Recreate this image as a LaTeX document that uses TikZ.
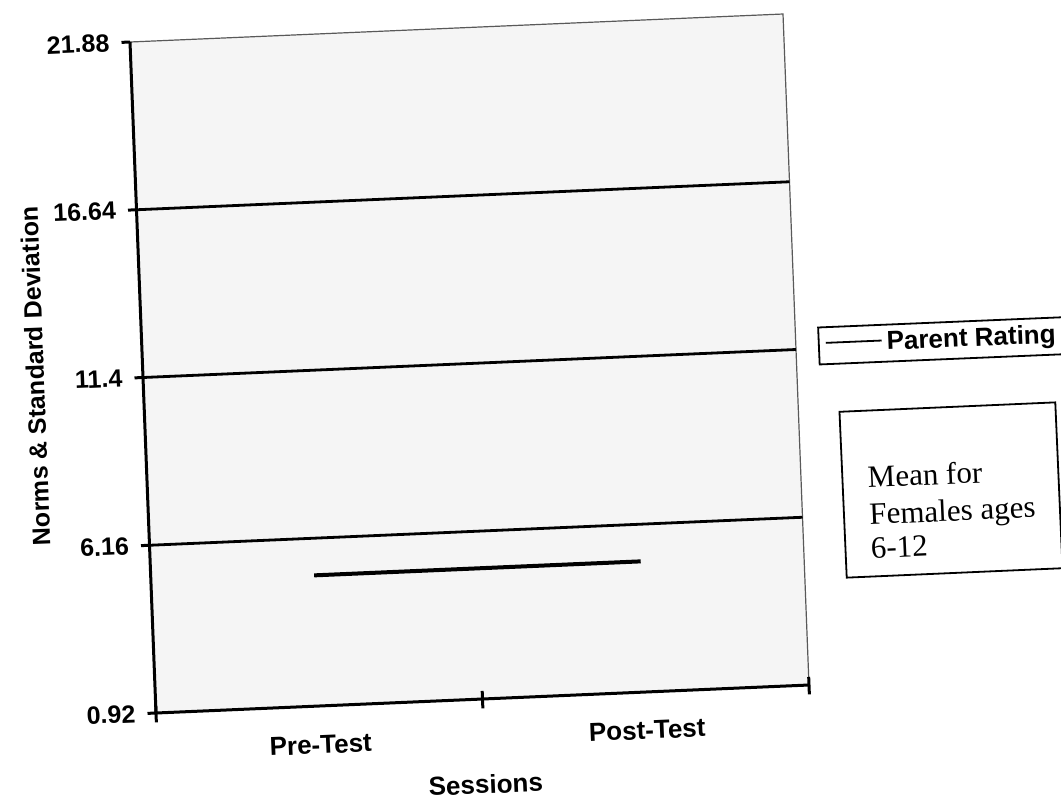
\documentclass[tikz,border=0pt]{standalone}
\usepackage{fontspec}
\setmainfont{Liberation Serif}
\newfontfamily\arialfont{Liberation Sans}
\begin{document}
\begin{tikzpicture}[x=0.5pt,y=-0.5pt,
  ticklbl/.style={font=\arialfont\bfseries\fontsize{12.5pt}{15pt}\selectfont, inner sep=0pt, rotate=2.4},
  catlbl/.style={font=\arialfont\bfseries\fontsize{13pt}{15pt}\selectfont, inner sep=0pt, rotate=2.4},
  serif/.style={font=\fontsize{15.5pt}{18.5pt}\selectfont, inner sep=0pt},
  axisline/.style={line width=1.5pt},
  gridline/.style={line width=1.4pt},
  border/.style={line width=0.6pt, black!65},
  dataline/.style={line width=2pt},
  ]
\fill[white] (0,0) rectangle (1061,800);
\useasboundingbox (0,0) rectangle (1061,800);

% plot area (affine frame of the skewed scan)
\begin{scope}[shift={(156,713)}, x={(326.5pt,14pt)}, y={(-13pt,335.5pt)}]
  \coordinate (BL) at (0,0);
  \coordinate (BR) at (1,0);
  \coordinate (TL) at (0,1);
  \coordinate (TR) at (1,1);
  \fill[black!4] (BL) -- (BR) -- (TR) -- (TL) -- cycle;
  \draw[border] (TL) -- (TR) -- (BR);
  \foreach \v in {0.25,0.5,0.75} \draw[gridline] (0,\v) -- (1,\v);
  \draw[axisline] (TL) -- (BL) -- (BR);
  \foreach \v in {0,0.25,0.5,0.75,1} \draw[axisline] (0,\v) -- (-0.013,\v);
  \foreach \u in {0,0.5,1} \draw[axisline] (\u,-0.014) -- (\u,0.012);
  % tick labels
  \node[ticklbl, anchor=east] (y0) at (-0.031,0) {0.92};
  \node[ticklbl, anchor=east] (y1) at (-0.031,0.25) {6.16};
  \node[ticklbl, anchor=east] (y2) at (-0.031,0.5) {11.4};
  \node[ticklbl, anchor=east] (y3) at (-0.031,0.75) {16.64};
  \node[ticklbl, anchor=east] (y4) at (-0.031,1) {21.88};
  % category labels
  \node[catlbl] (pre) at (0.25,-0.058) {Pre-Test};
  \node[catlbl] (post) at (0.75,-0.057) {Post-Test};
  \node[catlbl] (sess) at (0.5,-0.127) {Sessions};
  \node[ticklbl, rotate=89.8] (ylab) at (-0.165,0.509) {Norms \& Standard Deviation};
  % data series
  \coordinate (d1) at (0.25,0.1947);
  \coordinate (d2) at (0.75,0.1947);
  \draw[dataline] (d1) -- (d2);
\end{scope}

% legend
\begin{scope}[shift={(818,346)}, rotate=2.4, transform shape]
  \node[draw, line width=0.9pt, anchor=west, inner xsep=3.5pt, inner ysep=0pt,
        minimum height=18.5pt,
        font=\arialfont\bfseries\fontsize{13pt}{15pt}\selectfont] (leg) at (0,0)
        {\rule[0.33em]{28pt}{0.9pt}\hspace{2.5pt}Parent Rating};
\end{scope}

% text box
\begin{scope}[shift={(951,490)}, rotate=2.5, transform shape]
  \node[draw, line width=0.9pt, minimum width=108pt, minimum height=83pt, inner sep=0pt] (meanbox) at (0,0) {};
  \node[serif, anchor=base west] (m1) at (-83,-6) {Mean for};
  \node[serif, anchor=base west] (m2) at (-83,31) {Females ages};
  \node[serif, anchor=base west] (m3) at (-83,65) {6-12};
\end{scope}
\end{tikzpicture}
\end{document}
